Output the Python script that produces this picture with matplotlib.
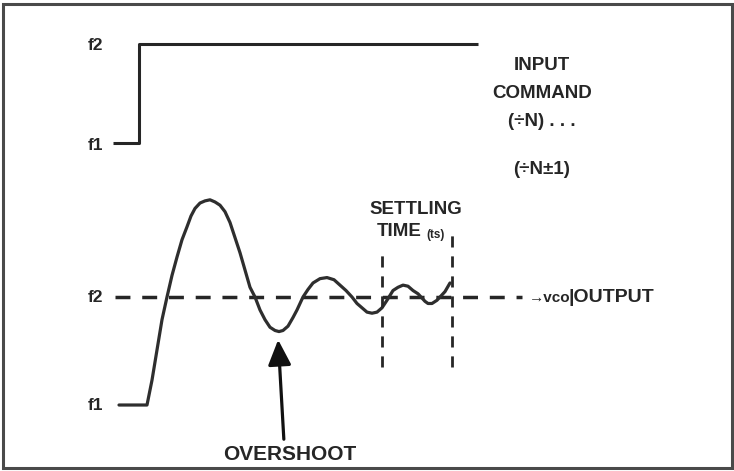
import matplotlib
matplotlib.use("Agg")
import matplotlib.pyplot as plt
from matplotlib.patches import Rectangle, FancyArrowPatch

# ---- data -------------------------------------------------------------
# time in arbitrary units (step command applied at t = 0)
# levels normalised so that f1 = 0 and f2 = 1
input_t = [-2.6, 0.0, 0.0, 33.9]
input_level = [0.0, 0.0, 1.0, 1.0]

vco_t = [-2.0, 0.8, 1.3, 1.8, 2.3, 2.8, 3.3, 3.8, 4.3, 4.8, 5.2, 5.6, 6.1,
         6.6, 7.1, 7.6, 8.1, 8.6, 9.1, 9.6, 10.1, 10.6, 11.1, 11.6, 12.1,
         12.6, 13.1, 13.6, 14.0, 14.4, 14.9, 15.4, 15.8, 16.4, 16.9, 17.4,
         18.1, 18.8, 19.5, 20.1, 20.7, 21.3, 21.8, 22.3, 22.8, 23.3, 23.8,
         24.3, 24.8, 25.4, 25.9, 26.4, 26.9, 27.4, 27.9, 28.3, 28.6, 28.9,
         29.3, 29.8, 30.2, 30.6, 31.1]
vco_level = [0.0, 0.0, 0.23, 0.51, 0.79, 1.00, 1.20, 1.37, 1.53, 1.65, 1.75,
             1.82, 1.87, 1.89, 1.90, 1.88, 1.85, 1.79, 1.69, 1.55, 1.41, 1.25,
             1.09, 1.00, 0.88, 0.79, 0.72, 0.69, 0.68, 0.69, 0.73, 0.81, 0.88,
             1.00, 1.07, 1.13, 1.17, 1.18, 1.16, 1.11, 1.06, 1.00, 0.94, 0.90,
             0.86, 0.85, 0.86, 0.90, 0.97, 1.06, 1.09, 1.11, 1.10, 1.06, 1.03,
             0.99, 0.96, 0.94, 0.94, 0.97, 1.01, 1.05, 1.13]

f2_ref_t = [-2.4, 38.3]
settling_start, settling_end = 24.3, 31.3
settling_low = 0.35
settling_top = [1.45, 1.62]

ink = "#262626"

fig = plt.figure(figsize=(7.34, 4.71), dpi=100)
fig.patch.set_facecolor("white")

# lower panel: VCO output response
ax = fig.add_axes([0, 0, 1, 1])
ax.set_xlim(-13.9, 59.5)
ax.set_ylim(-0.611, 3.750)
ax.axis("off")

# upper panel: input command step (same time axis)
ax_top = fig.add_axes([0, 0, 1, 1], sharex=ax)
ax_top.set_ylim(-3.313, 1.444)
ax_top.axis("off")
ax_top.patch.set_alpha(0)

# overlay in pixel units for text and frame
ov = fig.add_axes([0, 0, 1, 1])
ov.set_xlim(0, 734)
ov.set_ylim(471, 0)
ov.axis("off")
ov.patch.set_alpha(0)

font = ["Liberation Sans", "DejaVu Sans"]

# input step
ax_top.plot(input_t, input_level, color=ink, lw=2.2,
            solid_joinstyle="round", solid_capstyle="butt")

# f2 reference (dashed)
ax.plot(f2_ref_t, [1.0, 1.0], color=ink, lw=2.5, linestyle=(0, (4.3, 3.4)),
        dash_capstyle="butt")

# VCO output
ax.plot(vco_t, vco_level, color="#2e2e2e", lw=2.3,
        solid_joinstyle="round", solid_capstyle="round")

# settling-time markers
ax.plot([settling_start, settling_start], [settling_low, settling_top[0]],
        color=ink, lw=2.0, linestyle=(0, (4.0, 3.2)))
ax.plot([settling_end, settling_end], [settling_low, settling_top[1]],
        color=ink, lw=2.0, linestyle=(0, (4.0, 3.2)))

# overshoot arrow
arrow = FancyArrowPatch((284, 442), (278, 337), transform=ov.transData,
                        arrowstyle="-|>,head_length=7,head_width=3.2",
                        color="#111111", lw=2.3, mutation_scale=2.2)
ov.add_patch(arrow)

# level labels
for (yy, lab) in [(45, "f2"), (146, "f1"), (297, "f2"), (406, "f1")]:
    ov.text(96, yy, lab, fontsize=12.5, family=font, fontweight="bold",
            color=ink, ha="center", va="center")

# annotations
tk = dict(family=font, color=ink, ha="center", va="center",
          fontweight="bold")
ov.text(542, 66, "INPUT", fontsize=13.5, **tk)
ov.text(542, 93, "COMMAND", fontsize=13.5, **tk)
ov.text(542, 121, "(÷N) . . .", fontsize=13.5, **tk)
ov.text(542, 170, "(÷N±1)", fontsize=13.5, **tk)
ov.text(416, 210, "SETTLING", fontsize=13.5, **tk)
ov.text(377, 232, "TIME", fontsize=13.5, family=font, color=ink,
        fontweight="bold", ha="left", va="center")
ov.text(426, 235, "(ts)", fontsize=8.5, family=font, color=ink,
        fontweight="bold", ha="left", va="center")
ov.text(290, 455, "OVERSHOOT", fontsize=15, **tk)
ov.text(529, 298, "→vco", fontsize=11, family=font, color=ink,
        fontweight="bold", ha="left", va="center")
ov.text(568, 297, "|OUTPUT", fontsize=14, family=font, color=ink,
        fontweight="bold", ha="left", va="center")

# frame
ov.add_patch(Rectangle((3, 4), 729, 464, fill=False, edgecolor="#4a4a4a",
                       lw=2.2))

fig.savefig("out.png", dpi=100, facecolor="white")
